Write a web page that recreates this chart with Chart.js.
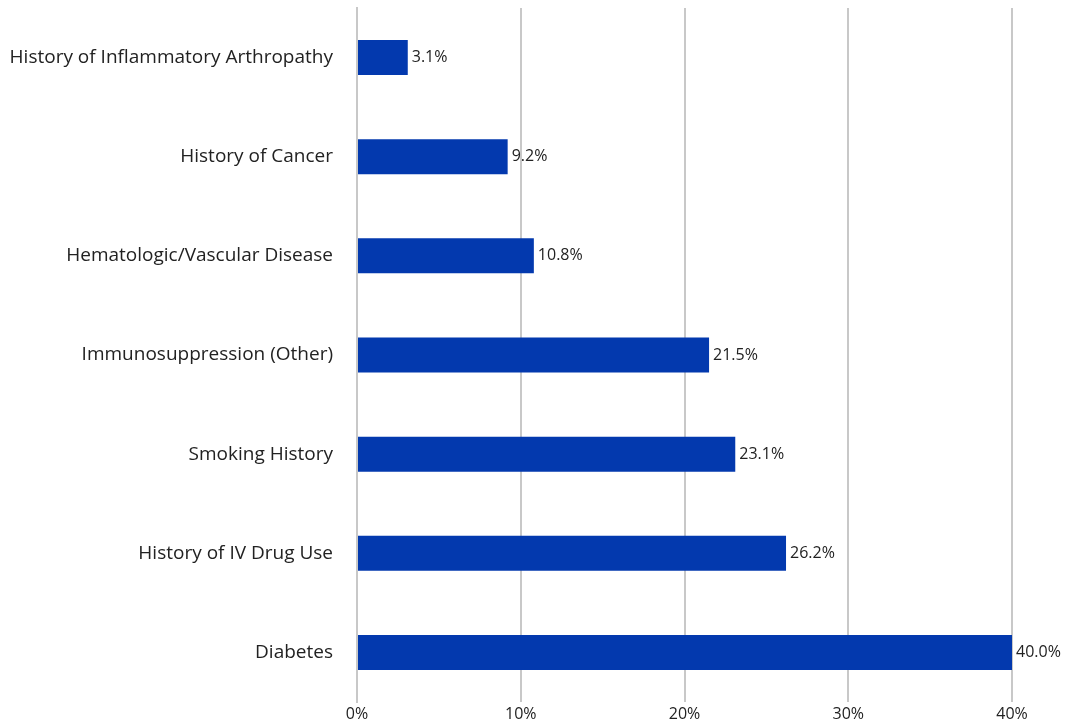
<!DOCTYPE html>
<html>
<head>
<meta charset="utf-8">
<script src="https://cdn.jsdelivr.net/npm/chart.js@4/dist/chart.umd.min.js"></script>
<style>
  html, body { margin: 0; padding: 0; background: #fff; }
  #wrap { width: 1065px; height: 726px; }
</style>
</head>
<body>
<div id="wrap"><canvas id="barChart" width="1065" height="726"></canvas></div>
<script>
const categories = [
  "History of Inflammatory Arthropathy",
  "History of Cancer",
  "Hematologic/Vascular Disease",
  "Immunosuppression (Other)",
  "Smoking History",
  "History of IV Drug Use",
  "Diabetes"
];
const percentages = [3.1, 9.2, 10.8, 21.5, 23.1, 26.2, 40.0];
const xTicks = [0, 10, 20, 30, 40];

// percent labels at the end of each bar
const valueLabels = {
  id: "valueLabels",
  afterDatasetsDraw(chart) {
    const ctx = chart.ctx;
    const meta = chart.getDatasetMeta(0);
    ctx.save();
    ctx.font = "16px 'Open Sans', sans-serif";
    ctx.fillStyle = "#222";
    ctx.textAlign = "left";
    ctx.textBaseline = "middle";
    meta.data.forEach((bar, i) => {
      ctx.fillText(percentages[i].toFixed(1) + "%", bar.x + 4, bar.y);
    });
    ctx.restore();
  }
};

const ctx = document.getElementById("barChart").getContext("2d");
new Chart(ctx, {
  type: "bar",
  data: {
    labels: categories,
    datasets: [
      {
        data: percentages,
        backgroundColor: "#0339ae",
        barPercentage: 0.353,
        categoryPercentage: 1.0,
      },
    ],
  },
  options: {
    indexAxis: "y",
    responsive: false,
    animation: false,
    layout: { padding: { top: 8, right: 53, left: 0, bottom: 0 } },
    plugins: {
      legend: { display: false },
      tooltip: { enabled: false },
    },
    scales: {
      x: {
        min: 0,
        max: 40,
        afterBuildTicks: (axis) => {
          axis.ticks = xTicks.map((v) => ({ value: v }));
        },
        afterFit: (axis) => { axis.height = 24; },
        grid: { color: "#c8c8c8", lineWidth: 2, drawTicks: false },
        border: { display: false },
        ticks: {
          padding: 3,
          color: "#222",
          font: { family: "'Open Sans', sans-serif", size: 16 },
          callback: (v) => v + "%",
        },
      },
      y: {
        afterFit: (axis) => {
          axis.width = 357;
          axis.paddingTop = 0;
          axis.paddingBottom = 0;
        },
        grid: { display: false, drawTicks: false },
        border: { display: true, color: "#c8c8c8", width: 2 },
        ticks: {
          padding: 24,
          color: "#222",
          font: { family: "'Open Sans', sans-serif", size: 19 },
        },
      },
    },
  },
  plugins: [valueLabels],
});
</script>
</body>
</html>
